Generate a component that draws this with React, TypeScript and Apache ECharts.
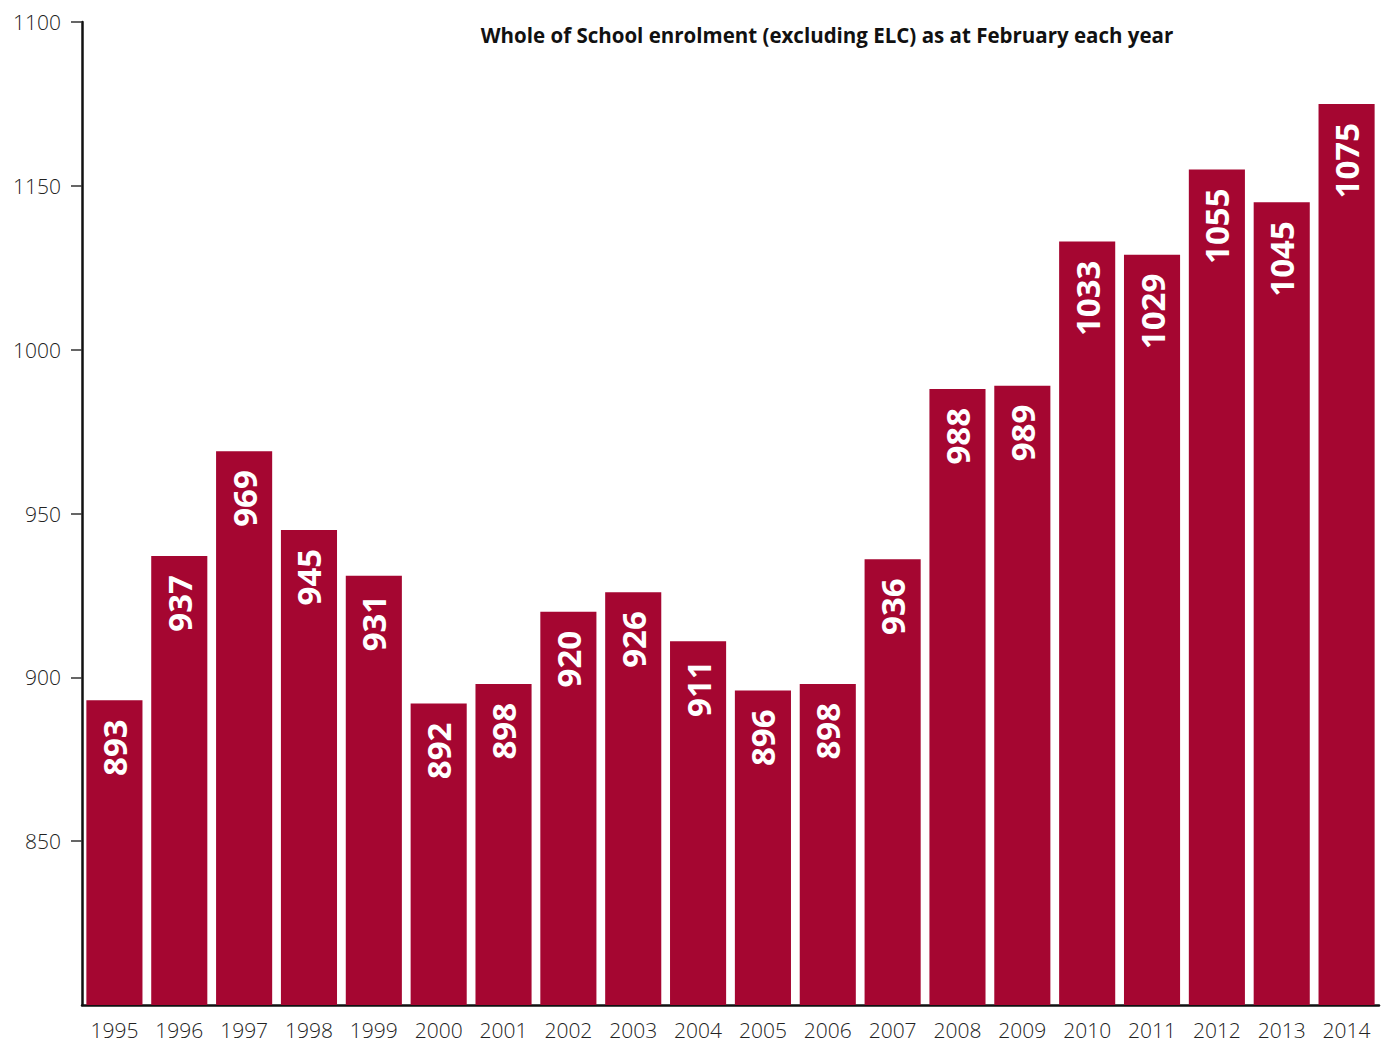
import React, { useEffect, useRef } from "react";
import * as echarts from "echarts";

const years = ["1995","1996","1997","1998","1999","2000","2001","2002","2003","2004","2005","2006","2007","2008","2009","2010","2011","2012","2013","2014"];
const enrolment = [893, 937, 969, 945, 931, 892, 898, 920, 926, 911, 896, 898, 936, 988, 989, 1033, 1029, 1055, 1045, 1075];
const tickValues = [850, 900, 950, 1000, 1050, 1100];
const tickLabels = ["850", "900", "950", "1000", "1150", "1100"];
const title = "Whole of School enrolment (excluding ELC) as at February each year";

export default function App() {
  const ref = useRef<HTMLDivElement>(null);
  useEffect(() => {
    if (!ref.current) return;
    const chart = echarts.init(ref.current, null, { renderer: "svg" });
    const font = "'Open Sans', 'Noto Sans', sans-serif";
    chart.setOption({
      animation: false,
      backgroundColor: "#ffffff",
      title: {
        text: title,
        left: 822,
        top: 19,
        textAlign: "center",
        textStyle: { fontFamily: font, fontSize: 20.5, fontWeight: "bold", color: "#111" },
      },
      grid: { left: 82, right: 10, top: 22, bottom: 38, containLabel: false },
      xAxis: {
        type: "category",
        data: years,
        axisLine: { show: true, lineStyle: { color: "#111", width: 2.5 } },
        axisTick: { show: false },
        axisLabel: { fontFamily: font, fontSize: 21, fontWeight: 300, color: "#222", margin: 14 },
      },
      yAxis: {
        type: "value",
        min: 800,
        max: 1100,
        interval: 50,
        axisLine: { show: true, lineStyle: { color: "#111", width: 2.5 } },
        axisTick: { show: true, length: 11, customValues: tickValues, lineStyle: { color: "#333", width: 1.5 } },
        axisLabel: {
          customValues: tickValues,
          fontFamily: font,
          fontSize: 21,
          fontWeight: 300,
          color: "#222",
          margin: 21,
          formatter: (v: number) => {
            const i = tickValues.indexOf(v);
            return i >= 0 ? tickLabels[i] : "";
          },
        },
        splitLine: { show: false },
      },
      series: [
        {
          type: "bar",
          data: enrolment,
          barCategoryGap: "13.5%",
          itemStyle: { color: "#A50631" },
          label: {
            show: true,
            position: "insideTop",
            rotate: 90,
            align: "right",
            verticalAlign: "middle",
            distance: 19,
            color: "#ffffff",
            fontFamily: font,
            fontSize: 33,
            fontWeight: "bold",
          },
        },
      ],
    });
    return () => chart.dispose();
  }, []);
  return <div ref={ref} style={{ width: 1389, height: 1043, position: "absolute", left: 0, top: 0 }} />;
}
